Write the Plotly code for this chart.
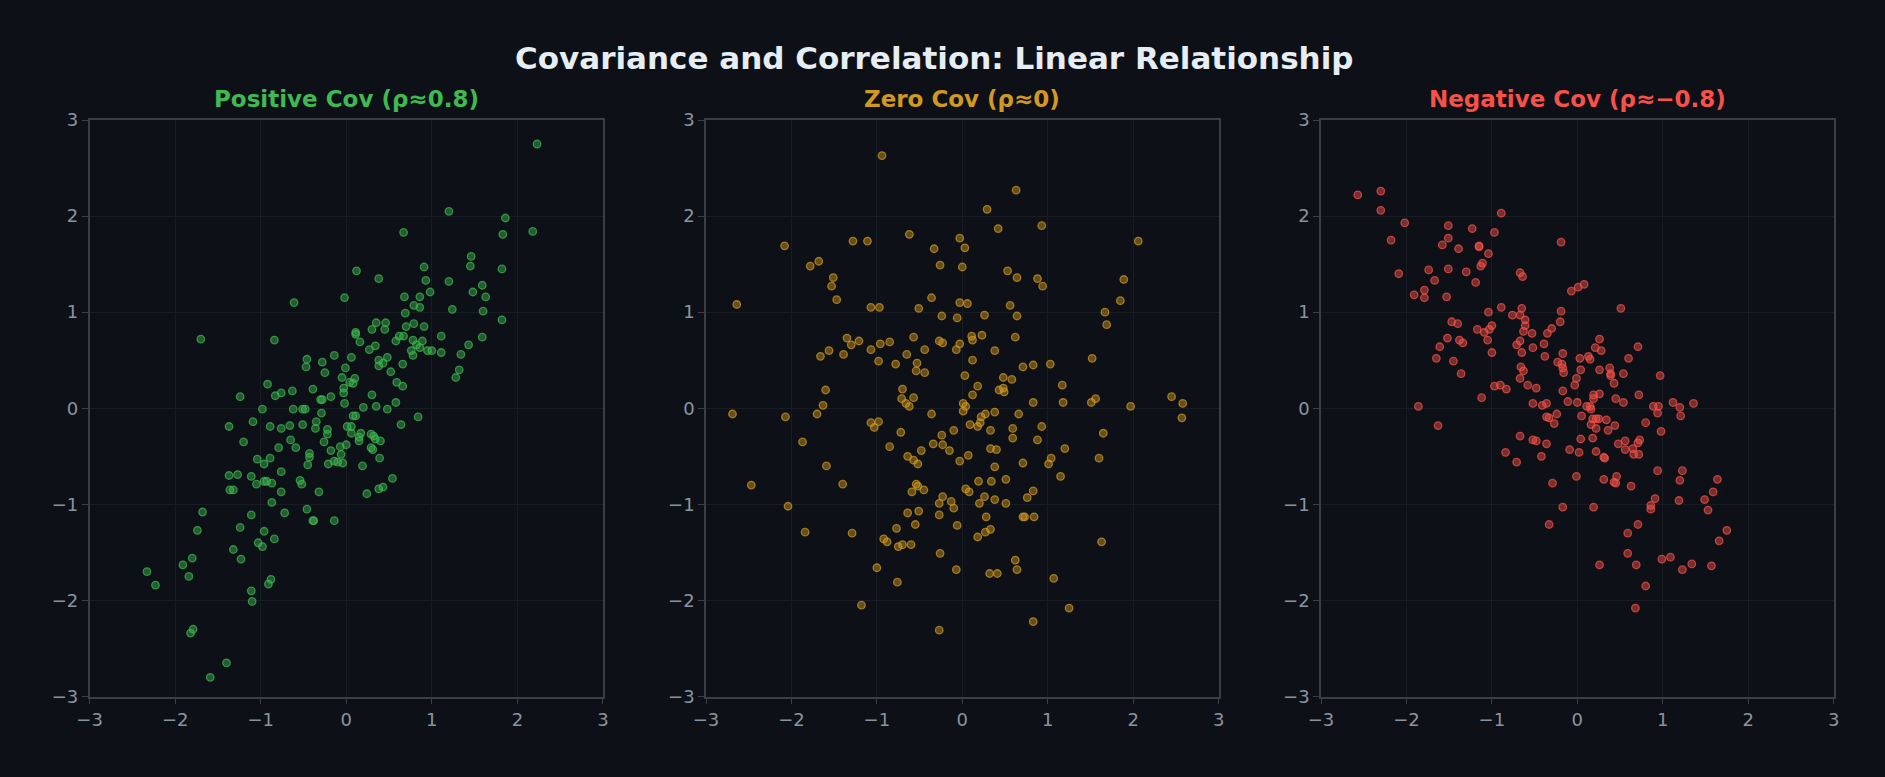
import plotly.graph_objects as go

# ---------------- data ----------------
pos_x = [2.23, 1.20, 1.86, 0.67, 2.18, 1.83, 1.46, 1.45, 0.91, 1.82, 0.12, 0.38, 0.93, 1.20, 1.59, 0.98, 1.48, 0.68, 0.86, 1.63,
         -0.02, -0.61, 0.79, 0.86, 1.24, 0.69, 1.60, 1.82, 0.35, 0.46, 0.79, 0.30, 0.45, 0.70, 0.91, 0.11, 0.11, -1.70, -0.84, 0.62,
         0.67, 1.11, 1.59, 0.58, 0.16, 0.78, 0.89, 0.82, 0.34, 1.43, 0.86, 0.27, 0.76, 0.95, 1.00, 1.11, 0.78, 1.34, -0.14, -0.46,
         0.06, 0.48, -0.28, 0.38, 0.43, 0.38, 0.66, -0.47, -0.01, -0.25, 0.52, 1.32, -0.05, 0.10, 1.28, 0.59, 0.04, 0.08, -0.92, 0.66,
         -0.03, -0.39, -0.63, -0.76, -0.03, -0.83, 0.30, -1.24, -0.18, -0.30, -0.28, 0.58, -0.02, 0.35, 0.20, -0.98, -0.62, -0.51, -0.48, 0.48,
         0.84, 0.64, -1.09, -1.37, -0.89, -0.76, -0.66, -0.51, -0.35, -0.36, -0.29, -0.22, -0.22, 0.01, 0.06, 0.06, 0.08, 0.11, 0.17, 0.15,
         0.15, 0.29, 0.32, 0.34, 0.40, -1.20, -0.65, -0.26, -0.79, -0.59, -0.18, -0.07, 0.00, 0.29, 0.31, -0.43, -0.43, -0.06, -1.04, -0.89,
         -0.96, -0.45, -0.21, -0.14, -0.10, -0.04, 0.19, 0.39, -0.76, -1.37, -1.27, -1.11, 0.54, -0.54, -0.52, -0.96, -0.93, -0.87, -1.05, -1.36,
         -1.32, -0.76, -0.32, 0.38, 0.43, 0.24, -0.87, -0.46, -1.68, -1.11, -0.72, -0.39, -0.38, -0.14, -1.74, -1.24, -0.96, -0.84, -1.03, -0.98,
         -1.32, -1.23, -1.80, -1.91, -2.33, -1.84, -2.23, -0.88, -0.91, -1.11, -1.10, -1.79, -1.82, -1.40, -1.59]
pos_y = [2.75, 2.05, 1.98, 1.83, 1.84, 1.81, 1.58, 1.48, 1.47, 1.45, 1.43, 1.35, 1.33, 1.32, 1.28, 1.21, 1.21, 1.16, 1.16, 1.16,
         1.15, 1.10, 1.07, 1.05, 1.03, 0.99, 1.01, 0.92, 0.89, 0.89, 0.88, 0.82, 0.82, 0.85, 0.85, 0.79, 0.77, 0.72, 0.71, 0.75,
         0.75, 0.75, 0.74, 0.70, 0.69, 0.71, 0.70, 0.66, 0.65, 0.66, 0.63, 0.61, 0.60, 0.60, 0.60, 0.58, 0.55, 0.56, 0.55, 0.51,
         0.53, 0.53, 0.48, 0.50, 0.47, 0.44, 0.46, 0.43, 0.42, 0.37, 0.38, 0.40, 0.32, 0.31, 0.32, 0.27, 0.27, 0.26, 0.25, 0.23,
         0.21, 0.20, 0.18, 0.16, 0.16, 0.13, 0.14, 0.12, 0.12, 0.09, 0.09, 0.06, 0.05, 0.02, 0.01, -0.01, -0.01, -0.01, -0.01, -0.01,
         -0.09, -0.17, -0.14, -0.19, -0.19, -0.21, -0.18, -0.17, -0.14, -0.21, -0.05, -0.22, -0.27, -0.19, -0.19, -0.26, -0.08, -0.08, -0.26, -0.30,
         -0.34, -0.27, -0.29, -0.32, -0.34, -0.35, -0.33, -0.35, -0.41, -0.41, -0.44, -0.40, -0.38, -0.41, -0.43, -0.47, -0.51, -0.48, -0.53, -0.52,
         -0.58, -0.59, -0.58, -0.55, -0.56, -0.57, -0.60, -0.52, -0.66, -0.70, -0.69, -0.71, -0.73, -0.75, -0.79, -0.76, -0.76, -0.78, -0.79, -0.85,
         -0.85, -0.87, -0.87, -0.84, -0.82, -0.89, -0.98, -1.05, -1.08, -1.11, -1.09, -1.17, -1.17, -1.17, -1.27, -1.24, -1.28, -1.36, -1.40, -1.44,
         -1.47, -1.57, -1.56, -1.63, -1.70, -1.75, -1.84, -1.78, -1.83, -1.90, -2.01, -2.30, -2.34, -2.65, -2.80]

zero_x = [-0.94, 0.63, 0.29, 0.42, 0.93, -2.08, -1.28, -1.11, -0.62, -0.03, 0.03, -0.33, 2.06, -1.78, -1.68, -0.26, 0.00, 0.53, 0.64, 0.88,
          0.94, 1.89, -1.51, -1.53, -1.47, -2.64, -0.36, -0.03, 0.06, 0.56, -1.07, -0.97, -0.51, -0.24, -0.06, 0.26, 0.64, 1.85, 1.67, 1.69,
          -1.35, -1.30, -1.21, -0.57, -0.85, -0.96, -0.27, -0.23, -0.03, 0.11, 0.12, 0.23, 0.62, -1.56, -1.66, -1.39, -1.07, -0.65, -0.44, -0.07,
          0.38, -0.98, -0.78, -0.53, 0.12, 0.71, 0.83, 1.03, 1.52, -0.54, -0.44, 0.03, 0.48, 0.58, -1.60, -0.70, 0.18, 0.43, 0.48, 0.49,
          1.17, 0.12, -0.71, -0.57, 1.56, 2.45, -1.63, -0.66, -0.62, 0.01, 0.04, 0.83, 1.18, 1.51, 1.97, 2.58,
          -2.69, -2.07, -1.70, -0.36, 0.01, 0.27, 0.38, 0.66, 2.57, -1.07, -0.98, -1.03, 0.09, 0.18, 0.21, 0.22, 0.33, 0.59, 0.93, -0.72,
          -0.24, -0.10, 1.65, 0.59, 0.88, -1.87, -0.85, -0.34, -0.23, -0.15, -0.48, 0.33, 0.40, 1.20, -0.64, -0.57, -0.52, 0.07, -0.03, 0.71,
          1.04, 1.01, 1.60, -1.59, 0.38, 1.15, -2.47, -1.40, -0.54, -0.52, 0.19, 0.34, 0.51, -0.59, -0.45, 0.04, 0.08, 0.83, -0.23, 0.26,
          0.76, -0.13, -0.27, 0.20, 0.38, 0.51, -2.04, -0.10, -0.64, -0.51, -0.27, 0.28, 0.71, 0.73, 0.84, -1.84, -1.29, -0.77, -0.55, -0.06,
          0.33, 0.27, 0.18, -0.92, -0.88, -0.75, -0.70, -0.60, 1.63, -0.26, 0.62, -1.00, -0.07, 0.64, 0.32, 0.41, 1.07, -0.76, -1.18, 1.25,
          0.83, -0.27]
zero_y = [2.63, 2.27, 2.07, 1.87, 1.90, 1.69, 1.74, 1.74, 1.81, 1.77, 1.67, 1.66, 1.74, 1.48, 1.53, 1.49, 1.47, 1.43, 1.36, 1.35,
          1.27, 1.34, 1.36, 1.27, 1.13, 1.08, 1.15, 1.10, 1.09, 1.07, 1.05, 1.05, 1.04, 0.96, 0.94, 0.97, 0.96, 1.12, 1.00, 0.87,
          0.73, 0.66, 0.70, 0.74, 0.69, 0.67, 0.70, 0.68, 0.67, 0.75, 0.71, 0.76, 0.74, 0.60, 0.54, 0.56, 0.61, 0.56, 0.61, 0.61,
          0.60, 0.49, 0.46, 0.47, 0.50, 0.43, 0.45, 0.46, 0.52, 0.39, 0.37, 0.34, 0.32, 0.30, 0.19, 0.20, 0.23, 0.19, 0.21, 0.17,
          0.24, 0.14, 0.10, 0.11, 0.10, 0.12, 0.03, 0.05, 0.02, 0.05, 0.02, 0.06, 0.06, 0.06, 0.02, 0.05,
          -0.06, -0.09, -0.06, -0.06, -0.03, -0.06, -0.04, -0.06, -0.10, -0.15, -0.14, -0.20, -0.17, -0.19, -0.15, -0.09, -0.23, -0.21, -0.19, -0.25,
          -0.28, -0.23, -0.26, -0.31, -0.33, -0.35, -0.40, -0.37, -0.38, -0.44, -0.44, -0.42, -0.43, -0.42, -0.50, -0.54, -0.58, -0.49, -0.55, -0.57,
          -0.52, -0.58, -0.52, -0.60, -0.61, -0.71, -0.80, -0.79, -0.79, -0.81, -0.76, -0.76, -0.74, -0.87, -0.85, -0.84, -0.87, -0.86, -0.92, -0.92,
          -0.93, -0.97, -0.99, -0.99, -0.95, -0.99, -1.02, -1.04, -1.09, -1.07, -1.11, -1.13, -1.13, -1.13, -1.13, -1.29, -1.30, -1.25, -1.21, -1.22,
          -1.26, -1.29, -1.34, -1.36, -1.39, -1.44, -1.42, -1.42, -1.39, -1.51, -1.58, -1.66, -1.68, -1.68, -1.72, -1.72, -1.77, -1.81, -2.05, -2.08,
          -2.22, -2.31]

neg_x = [-2.57, -2.30, -2.30, -2.02, -2.18, -2.09, -1.51, -1.51, -1.23, -0.89, -0.97, -1.58, -1.39, -1.15, -1.15, -1.04, -0.19, -1.74, -1.51, -1.30,
         -1.13, -1.11, -0.67, -0.64, -1.67, -1.19, -1.79, -1.79, -1.91, -1.53, -0.07, 0.01, 0.08, -0.89, -1.04, -0.76, -0.65, -0.67, -0.61, -0.61,
         -0.19, -0.20, 0.51, -1.47, -1.40, -1.17, -1.00, -1.03, -1.09, -0.63, -0.53, -0.35, -0.30, -1.52, -1.38, -1.34, -1.05, -0.67, -0.71, -0.39,
         0.26, 0.71, -1.61, -1.65, -1.00, -0.65, -0.52, -0.17, -0.38, 0.21, 0.28, 0.03, 0.13, 0.15, 0.60, -1.45, -0.23, -0.18, -0.17, -0.16,
         -0.66, -0.63, 0.04, 0.26, 0.38, 0.39, 0.39, 0.54, -1.36, 0.97, -0.67, -0.01, 0.43, -0.03, -0.97, -0.90, -0.83, -0.58, -0.48, -0.17,
         0.19, 0.26, 0.72, 0.45, 0.19, -1.12, -0.11, 0.00, 0.54, 1.12, 1.36, -0.52, -0.41, -0.36, 0.11, 0.15, 0.89, 0.95, 1.20, -1.86,
         1.21, 0.94, -1.63, -0.24, -0.27, -0.36, -0.33, 0.05, 0.16, 0.18, 0.22, 0.25, 0.34, 0.16, 0.22, 0.36, 0.44, 0.80, 0.98, -0.67,
         -0.52, -0.48, -0.36, 0.04, 0.18, 0.48, 0.56, 0.73, 0.71, -0.84, -0.71, -0.42, -0.09, 0.02, 0.22, 0.56, 0.65, 0.66, 0.72, 0.31,
         0.32, 0.94, 1.23, 1.64, 1.20, -0.01, 0.31, 0.46, 0.43, 0.45, -0.29, 0.63, 1.59, 1.49, 0.91, 1.19, 0.86, 0.86, 1.53, -0.17,
         0.19, -0.33, 0.71, 1.75, 0.59, 1.66, 0.59, 0.99, 1.09, 0.26, 0.69, 1.34, 1.23, 1.57, 0.80, 0.68]
neg_y = [2.22, 2.26, 2.06, 1.93, 1.75, 1.40, 1.90, 1.77, 1.87, 2.03, 1.83, 1.70, 1.66, 1.69, 1.68, 1.61, 1.73, 1.44, 1.45, 1.42,
         1.48, 1.51, 1.41, 1.37, 1.33, 1.31, 1.23, 1.15, 1.18, 1.16, 1.22, 1.26, 1.29, 1.05, 1.00, 0.97, 1.04, 0.97, 0.92, 0.86,
         1.01, 0.90, 1.04, 0.90, 0.88, 0.82, 0.86, 0.82, 0.79, 0.80, 0.78, 0.78, 0.83, 0.73, 0.71, 0.68, 0.71, 0.70, 0.66, 0.67,
         0.72, 0.64, 0.64, 0.52, 0.58, 0.58, 0.63, 0.57, 0.54, 0.63, 0.60, 0.52, 0.54, 0.51, 0.52, 0.49, 0.48, 0.46, 0.42, 0.37,
         0.43, 0.39, 0.40, 0.40, 0.42, 0.36, 0.34, 0.36, 0.36, 0.34, 0.31, 0.31, 0.26, 0.24, 0.23, 0.24, 0.20, 0.24, 0.21, 0.18,
         0.14, 0.15, 0.14, 0.10, 0.10, 0.11, 0.07, 0.06, 0.06, 0.06, 0.05, 0.05, 0.03, 0.05, 0.02, 0.02, 0.02, 0.02, 0.01, 0.02,
         -0.08, -0.05, -0.18, -0.06, -0.16, -0.09, -0.10, -0.08, -0.01, -0.11, -0.11, -0.11, -0.12, -0.17, -0.21, -0.23, -0.18, -0.15, -0.24, -0.29,
         -0.33, -0.34, -0.37, -0.32, -0.31, -0.37, -0.34, -0.33, -0.36, -0.46, -0.56, -0.50, -0.43, -0.46, -0.45, -0.43, -0.42, -0.48, -0.48, -0.51,
         -0.52, -0.65, -0.65, -0.74, -0.75, -0.71, -0.74, -0.71, -0.77, -0.78, -0.78, -0.81, -0.87, -0.95, -0.94, -0.96, -1.01, -1.05, -1.06, -1.03,
         -1.03, -1.21, -1.21, -1.27, -1.30, -1.38, -1.51, -1.57, -1.55, -1.63, -1.63, -1.62, -1.68, -1.64, -1.85, -2.08]

panel_titles = ["Positive Cov (ρ≈0.8)", "Zero Cov (ρ≈0)", "Negative Cov (ρ≈−0.8)"]
main_title = "Covariance and Correlation: Linear Relationship"
tick_vals = [-3, -2, -1, 0, 1, 2, 3]

# ---------------- style ----------------
BG = "#0d1117"
GRID = "#181d24"
AXIS = "#3a3f47"
TICKFONT = "#8b949e"
colors = [(63, 185, 80), (210, 153, 34), (248, 81, 73)]
title_colors = ["#3fb950", "#d29922", "#f85149"]

W, H = 1885, 777
x_domains = [(89.6 / W, 602.9 / W), (706.0 / W, 1218.6 / W), (1321.0 / W, 1833.6 / W)]
y_domain = (1 - 696.5 / H, 1 - 120.0 / H)

fig = go.Figure()
series = [(pos_x, pos_y), (zero_x, zero_y), (neg_x, neg_y)]
for i, (xs, ys) in enumerate(series):
    r, g, b = colors[i]
    ax = "" if i == 0 else str(i + 1)
    fig.add_trace(go.Scatter(
        x=xs, y=ys, mode="markers",
        xaxis="x" + ax, yaxis="y" + ax,
        marker=dict(size=7.5, color=f"rgba({r},{g},{b},0.45)",
                    line=dict(color=f"rgba({r},{g},{b},0.7)", width=1.3)),
        showlegend=False, hoverinfo="skip",
    ))

axis_common = dict(
    range=[-3, 3], tickvals=tick_vals, showgrid=True, gridcolor=GRID, gridwidth=1,
    zeroline=False, showline=True, linecolor=AXIS, linewidth=1.5, mirror=True,
    ticks="outside", ticklen=6, tickwidth=1.2, tickcolor=AXIS, automargin=False,
    tickfont=dict(family="DejaVu Sans", size=18, color=TICKFONT),
)

layout = dict(
    width=W, height=H, paper_bgcolor=BG, plot_bgcolor=BG,
    margin=dict(l=0, r=0, t=0, b=0),
    font=dict(family="DejaVu Sans"),
)
for i in range(3):
    ax = "" if i == 0 else str(i + 1)
    layout["xaxis" + ax] = dict(axis_common, domain=list(x_domains[i]),
                                anchor="y" + ax)
    layout["yaxis" + ax] = dict(axis_common, domain=list(y_domain),
                                anchor="x" + ax)
fig.update_layout(**layout)

annotations = [dict(
    text=f"<b>{main_title}</b>", x=934 / W, y=1 - 58 / H, xref="paper", yref="paper",
    xanchor="center", yanchor="middle", showarrow=False,
    font=dict(family="DejaVu Sans", size=31, color="#e6edf3"),
)]
for i in range(3):
    cx = (x_domains[i][0] + x_domains[i][1]) / 2
    annotations.append(dict(
        text=f"<b>{panel_titles[i]}</b>", x=cx, y=1 - 99 / H, xref="paper", yref="paper",
        xanchor="center", yanchor="middle", showarrow=False,
        font=dict(family="DejaVu Sans", size=23, color=title_colors[i]),
    ))
fig.update_layout(annotations=annotations)

fig.write_html("out.html")
